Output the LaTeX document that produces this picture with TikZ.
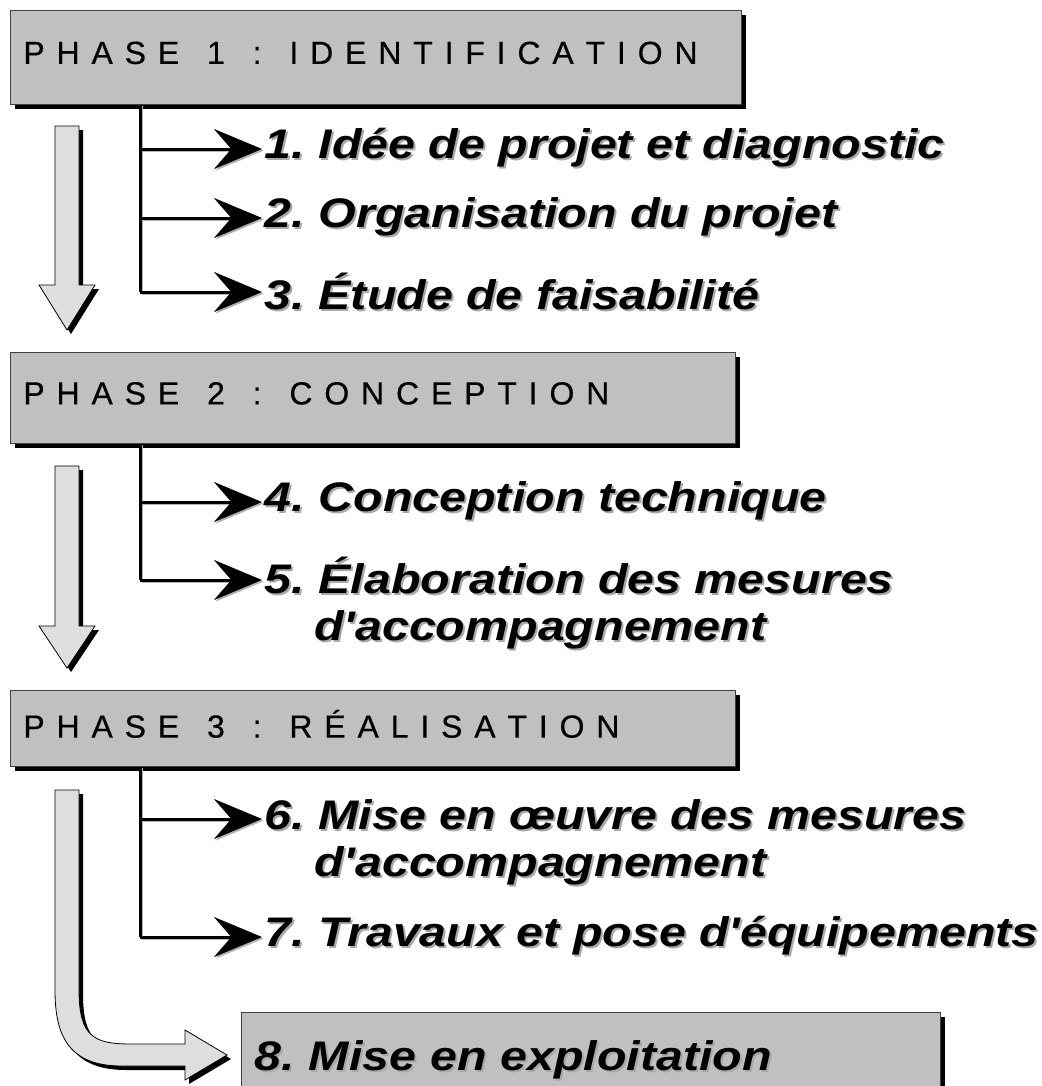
\documentclass[tikz,border=0pt]{standalone}
\usepackage{fontspec}
\setmainfont{Liberation Sans}
\newfontfamily\phasefont[FakeBold=0.4]{Liberation Sans}
\newfontfamily\itemfont[FakeStretch=1.17]{Liberation Sans}
\usetikzlibrary{arrows.meta,shadows,positioning}
\definecolor{boxgray}{HTML}{C0C0C0}
\definecolor{arrowgray}{HTML}{DEDEDE}
\definecolor{txtshadow}{HTML}{A8A8A8}
\frenchspacing
% text with a grey offset shadow
\newcommand{\shtext}[1]{\leavevmode\rlap{\raisebox{-1.5pt}{\hspace{1.5pt}\textcolor{txtshadow}{#1}}}#1}
% spaced-out capitals for the phase titles
\makeatletter
\newcommand{\spaced}[1]{\@tfor\@ch:=#1\do{\@ch\hspace{0.37em}}}
\makeatother
\newcommand{\gap}{\hspace{0.5em}}
\tikzset{
  phase/.style={rectangle, draw=black!75, line width=0.6pt, fill=boxgray, anchor=north west,
    inner xsep=9.75pt, align=left, text depth=7pt, font=\phasefont\fontsize{24}{28}\selectfont,
    drop shadow={shadow xshift=3.5pt, shadow yshift=-3.5pt, fill=black, opacity=1}},
  itm/.style={anchor=west, inner sep=2pt, align=left, font=\itemfont\bfseries\itshape\fontsize{31}{35}\selectfont},
  trunk/.style={line width=2.25pt, preaction={draw=black!30, line width=2.25pt, transform canvas={shift={(1.2pt,-1.2pt)}}}},
  branch/.style={trunk, -{Stealth[length=36pt,width=30pt,inset=13pt]}},
  bigarrow/.style={fill=arrowgray, draw=black, line width=0.6pt,
    drop shadow={shadow xshift=3pt, shadow yshift=-3pt, fill=black, opacity=1}}
}
\begin{document}
\begin{tikzpicture}[x=0.75pt, y=-0.75pt]
\path[use as bounding box] (0,0) rectangle (1042,1086);
\clip (0,0) rectangle (1042,1086);

% phases
\node[phase, minimum width=548.25pt, minimum height=70.5pt, text width=528.75pt] (phase1) at (10,10)
  {\spaced{PHASE}\gap\spaced{1}\gap\spaced{:}\gap\spaced{IDENTIFICATION}};
\node[phase, minimum width=543.75pt, minimum height=68.25pt, text width=524.25pt] (phase2) at (10,352)
  {\spaced{PHASE}\gap\spaced{2}\gap\spaced{:}\gap\spaced{CONCEPTION}};
\node[phase, minimum width=543.75pt, minimum height=57pt, text width=524.25pt] (phase3) at (10,690)
  {\spaced{PHASE}\gap\spaced{3}\gap\spaced{:}\gap\spaced{RÉALISATION}};
\node[phase, minimum width=524.25pt, minimum height=64.5pt, text width=504pt, inner xsep=10pt, text depth=0pt,
  font=\itemfont\bfseries\itshape\fontsize{31}{35}\selectfont] (expl) at (241,1012) {\shtext{8. Mise en exploitation}};

% big arrows between phases
\path[bigarrow] (55,126) -- (79,126) -- (79,285) -- (95,285) -- (67,330) -- (39,285) -- (55,285) -- cycle;
\path[bigarrow] (55,466) -- (79,466) -- (79,626) -- (95,626) -- (67,668) -- (39,626) -- (55,626) -- cycle;
\path[bigarrow] (55,790) -- (79,790) -- (79,990) .. controls (79,1038) and (95,1044) .. (132,1044)
  -- (185,1044) -- (185,1030) -- (227,1055) -- (185,1080) -- (185,1066) -- (122,1066)
  .. controls (68,1066) and (55,1035) .. (55,990) -- cycle;

% steps
\node[itm] (step1) at (262,149) {\shtext{1. Idée de projet et diagnostic}};
\node[itm] (step2) at (262,218) {\shtext{2. Organisation du projet}};
\node[itm] (step3) at (262,292) {\shtext{3. Étude de faisabilité}};
\node[itm] (step4) at (262,502) {\shtext{4. Conception technique}};
\node[itm] (step5) at (262,604) {\shtext{5. Élaboration des mesures}\\\hspace*{37pt}\shtext{d'accompagnement}};
\node[itm] (step6) at (262,843) {\shtext{6. Mise en œuvre des mesures}\\\hspace*{37pt}\shtext{d'accompagnement}};
\node[itm] (step7) at (262,937) {\shtext{7. Travaux et pose d'équipements}};

\coordinate (b1) at (140,149);
\coordinate (b2) at (140,218);
\coordinate (b3) at (140,292);
\coordinate (b4) at (140,502);
\coordinate (b5) at (140,580);
\coordinate (b6) at (140,819);
\coordinate (b7) at (140,937);

% connectors
\draw[trunk] (phase1.south -| b1) -- (b3);
\draw[trunk] (phase2.south -| b4) -- (b5);
\draw[trunk] (phase3.south -| b6) -- (b7);
\foreach \s in {1,...,7}
  \draw[branch] (b\s) -- (b\s -| step\s.west);

\end{tikzpicture}
\end{document}
